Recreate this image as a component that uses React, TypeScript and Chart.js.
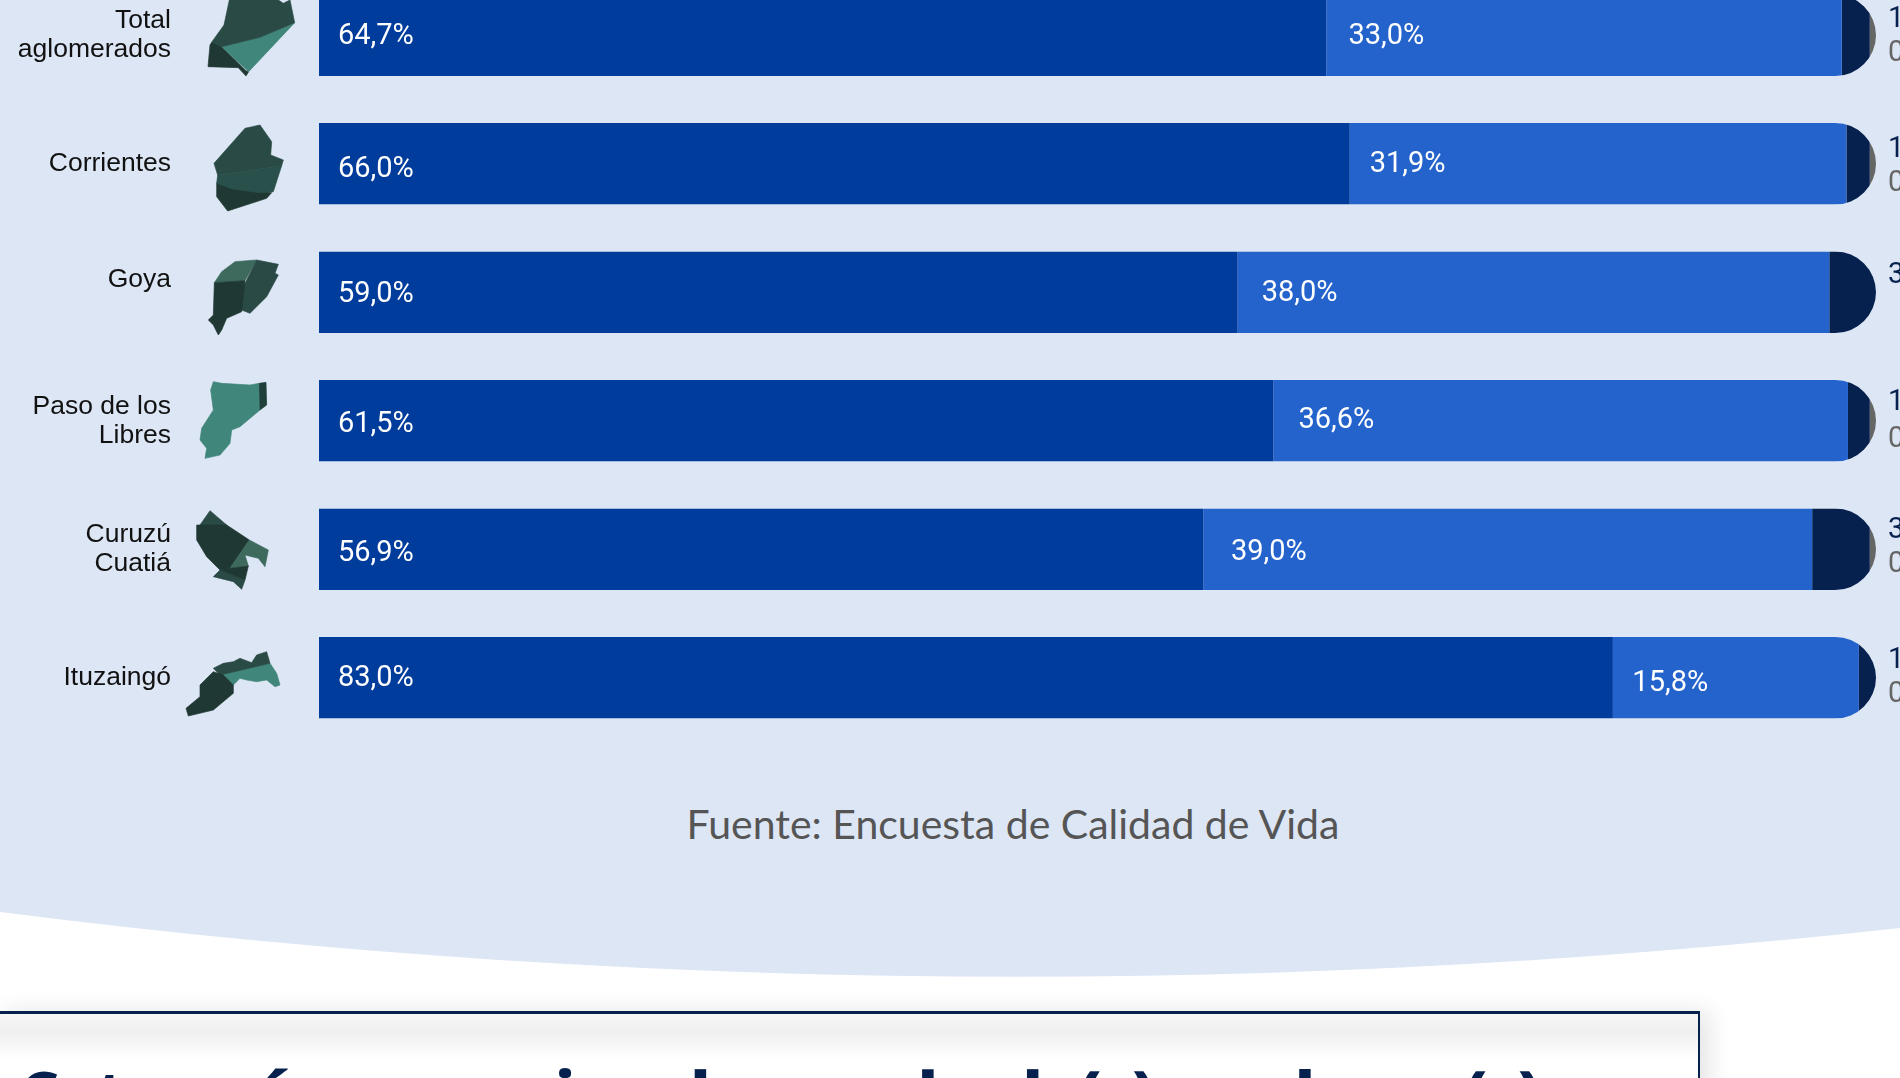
import React, { useEffect, useRef } from "react";
import { Chart, registerables } from "chart.js";

Chart.register(...registerables);

// ---- data ----
const categories: (string | string[])[] = [
  ["Total", "aglomerados"],
  "Corrientes",
  ["Goya", ""],
  ["Paso de los", "Libres"],
  ["Curuzú", "Cuatiá"],
  "Ituzaingó",
];
// bar lengths
const seriesA = [64.7, 66.2, 59.0, 61.3, 56.8, 83.1];
const seriesB = [33.1, 31.9, 38.0, 36.9, 39.1, 15.8];
const seriesC = [1.8, 1.5, 3.0, 1.4, 3.7, 1.1];
const seriesD = [0.4, 0.4, 0, 0.4, 0.4, 0];
// labels as printed
const labelsA = ["64,7%", "66,0%", "59,0%", "61,5%", "56,9%", "83,0%"];
const labelsB = ["33,0%", "31,9%", "38,0%", "36,6%", "39,0%", "15,8%"];
const labelsC = ["1,9%", "1,7%", "3,0%", "1,5%", "3,7%", "1,2%"];
const labelsD = ["0,4%", "0,4%", "", "0,4%", "0,4%", "0,0%"];
const sourceText = "Fuente: Encuesta de Calidad de Vida";

// ---- label nudges in pixels, as hand placed in the reference ----
const dyA = [1, 6, 2.5, 4, 4, 0.5];
const dxB = [22, 20, 24, 25, 27.5, 19.5];
const dyB = [1, 1, 1.5, 0, 3, 5.5];
const dyC = [-16, -14.5, -16.5, -18.5, -18.5, -17];
const dyD = [18, 19.5, 0, 18.5, 15.5, 17];

const COLOR_A = "#003C9B";
const COLOR_B = "#2463CB";
const COLOR_C = "#06214D";
const COLOR_D = "#666666";
const PANEL = "#DDE6F5";
const BAR_FRACTION = 0.635;

const roundedClip = {
  id: "roundedClip",
  beforeDatasetsDraw(chart: any) {
    const { ctx, scales } = chart;
    const x0 = scales.x.getPixelForValue(0);
    const x1 = scales.x.getPixelForValue(100);
    const band = scales.y.getPixelForValue(1) - scales.y.getPixelForValue(0);
    const h = band * BAR_FRACTION;
    ctx.save();
    ctx.beginPath();
    categories.forEach((_, i) => {
      const c = scales.y.getPixelForValue(i);
      ctx.roundRect(x0, c - h / 2, x1 - x0, h, [0, h / 2, h / 2, 0]);
    });
    ctx.clip();
  },
  afterDatasetsDraw(chart: any) {
    chart.ctx.restore();
  },
};

const valueLabels = {
  id: "valueLabels",
  afterDraw(chart: any) {
    const { ctx, scales } = chart;
    ctx.save();
    ctx.font = "400 29px Roboto";
    ctx.textBaseline = "middle";
    ctx.textAlign = "left";
    categories.forEach((_, i) => {
      const c = scales.y.getPixelForValue(i);
      const xA = scales.x.getPixelForValue(0) + 19;
      ctx.fillStyle = "#FFFFFF";
      ctx.fillText(labelsA[i], xA, c + dyA[i]);
      ctx.fillText(labelsB[i], scales.x.getPixelForValue(seriesA[i]) + dxB[i], c + dyB[i]);
      const xOut = scales.x.getPixelForValue(100) + 12;
      ctx.fillStyle = COLOR_C;
      ctx.fillText(labelsC[i], xOut, c + dyC[i]);
      if (labelsD[i]) {
        ctx.fillStyle = COLOR_D;
        ctx.fillText(labelsD[i], xOut, c + dyD[i]);
      }
    });
    ctx.restore();
  },
};

// ---- decorative department maps (3x crop units) ----
const DARK = "#1F3833";
const MID = "#2A4A45";
const SOFT = "#3D6A5D";
const TEAL = "#40867A";
type Shape = [string, string];
const icons: { dy: number; shapes: Shape[] }[] = [
  {
    dy: 0,
    shapes: [
      [DARK, "636,125 665,140 738,212 746,215 738,228 715,203 624,200 630,135"],
      [TEAL, "665,140 780,112 884,68 746,215"],
      [MID, "688,0 835,0 850,10 870,0 884,68 780,112 665,140 636,125 672,75"],
    ],
  },
  {
    dy: 0,
    shapes: [
      [MID, "780,375 815,425 812,465 850,480 845,497 653,525 642,490 735,385"],
      [DARK, "650,550 815,578 800,595 683,633 650,590"],
      ["#29504B", "653,525 845,497 820,575 780,578 700,568 650,550"],
    ],
  },
  {
    dy: 0,
    shapes: [
      [SOFT, "705,785 770,780 735,842 643,848 665,815"],
      [MID, "770,780 835,793 825,820 835,825 800,890 750,940 725,930 730,860"],
      [DARK, "643,848 735,842 725,935 680,955 665,990 655,1005 640,975 625,960 640,945"],
    ],
  },
  {
    dy: 350,
    shapes: [
      [TEAL, "640,95 665,100 750,105 778,100 780,180 720,230 695,240 690,280 660,315 615,325 620,295 600,270 605,235 640,180 632,120"],
      ["#1F3F3A", "778,100 798,97 800,165 780,180"],
    ],
  },
  {
    dy: 350,
    shapes: [
      [MID, "630,482 680,525 600,525"],
      [DARK, "590,525 680,525 748,570 690,655 660,660 620,620 590,570"],
      [SOFT, "748,570 805,600 795,650 775,625 735,615 745,648 690,655"],
      [MID, "660,660 735,690 725,718 700,695 640,680"],
      [DARK, "690,655 745,648 735,690 660,660"],
    ],
  },
  {
    dy: 350,
    shapes: [
      [TEAL, "660,972 810,940 830,970 840,1005 825,1010 800,990 770,995 740,990 720,985 700,1005"],
      [MID, "640,955 670,940 700,935 720,925 755,938 770,915 800,905 810,940 660,975"],
      [DARK, "640,965 670,975 700,1005 700,1030 640,1080 565,1098 558,1075 600,1040 600,1005"],
    ],
  },
];

const titleWords: [string, number][] = [
  ["Categoría ocupacional", 20],
  ["de", 899],
  ["la(s)", 1023],
  ["obrero(s)", 1257],
];

export default function App() {
  const ref = useRef<HTMLCanvasElement>(null);

  useEffect(() => {
    document.body.style.margin = "0";
    const chart = new Chart(ref.current as HTMLCanvasElement, {
      type: "bar",
      data: {
        labels: categories as any,
        datasets: [
          { label: "A", data: seriesA, backgroundColor: COLOR_A },
          { label: "B", data: seriesB, backgroundColor: COLOR_B },
          { label: "C", data: seriesC, backgroundColor: COLOR_C },
          { label: "D", data: seriesD, backgroundColor: COLOR_D },
        ],
      },
      options: {
        indexAxis: "y",
        animation: false,
        responsive: false,
        layout: { padding: { right: 24, top: 0, bottom: 0, left: 0 } },
        datasets: { bar: { barPercentage: BAR_FRACTION, categoryPercentage: 1, borderSkipped: false } },
        plugins: { legend: { display: false }, tooltip: { enabled: false }, title: { display: false } },
        scales: {
          x: { stacked: true, min: 0, max: 100, display: false },
          y: {
            stacked: true,
            grid: { display: false, drawTicks: false },
            border: { display: false },
            afterFit(scale: any) {
              scale.width = 319;
              scale.paddingTop = 0;
              scale.paddingBottom = 0;
            },
            ticks: {
              autoSkip: false,
              padding: 148,
              color: "#111111",
              font: (ctx: any) => ({
                family: "'Liberation Sans'",
                size: 26.5,
                lineHeight: ctx.index === 2 ? "25px" : "29px",
              }),
            },
          },
        },
      } as any,
      plugins: [roundedClip, valueLabels],
    });
    return () => chart.destroy();
  }, []);

  return (
    <div style={{ position: "fixed", inset: 0, overflow: "hidden", background: "#FFFFFF" }}>
      <svg width={1900} height={1078} style={{ position: "absolute", left: 0, top: 0 }}>
        <path d="M0,0 H1900 V928 Q950,1033 0,912 Z" fill={PANEL} />
        {icons.map((ic, i) => (
          <g key={i} transform={`translate(0,${ic.dy}) scale(${1 / 3})`}>
            {ic.shapes.map((s, j) => (
              <polygon key={j} fill={s[0]} stroke={s[0]} strokeWidth={2} strokeLinejoin="round" points={s[1]} />
            ))}
          </g>
        ))}
      </svg>
      <canvas
        ref={ref}
        width={1900}
        height={771}
        style={{ position: "absolute", left: 0, top: -29, width: 1900, height: 771 }}
      />
      <div
        style={{
          position: "absolute",
          left: 0,
          right: 0,
          top: 799,
          paddingLeft: 126,
          textAlign: "center",
          font: "400 41px Lato",
          lineHeight: "50px",
          color: "#555555",
        }}
      >
        {sourceText}
      </div>
      <div
        style={{
          position: "absolute",
          left: -4,
          top: 1011,
          width: 1704,
          height: 120,
          boxSizing: "border-box",
          border: "2px solid #06214D",
          borderTopWidth: 3,
          background: "linear-gradient(to bottom, #F6F6F6 0px, #F0F0F0 18px, #FFFFFF 46px)",
          boxShadow: "10px 0 22px rgba(0,0,0,0.10)",
        }}
      />
      {titleWords.map(([word, x]) => (
        <div
          key={word}
          style={{
            position: "absolute",
            left: x,
            top: 1057,
            font: "800 60px 'Open Sans'",
            lineHeight: "70px",
            color: "#06214D",
            whiteSpace: "nowrap",
          }}
        >
          {word}
        </div>
      ))}
    </div>
  );
}
